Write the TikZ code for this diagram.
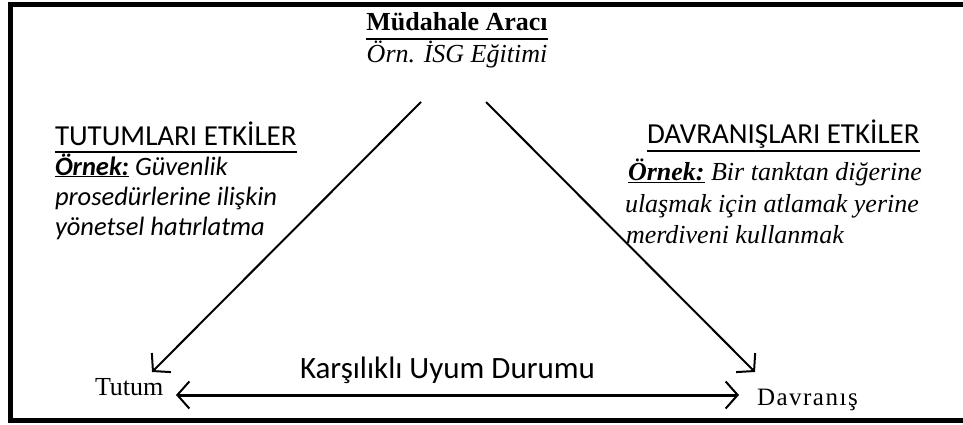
\documentclass[tikz,border=0pt]{standalone}
\usepackage{fontspec}
\setmainfont{Liberation Serif}
\newfontfamily\calfont{Carlito}
\usetikzlibrary{arrows.meta}
\tikzset{
  txt/.style={inner sep=0pt, outer sep=0pt},
  serif/.style={txt, font=\fontsize{25}{30}\selectfont},
  sans/.style={txt, font=\calfont\fontsize{29}{34}\selectfont},
  sansex/.style={txt, font=\calfont\itshape\fontsize{26.5}{30}\selectfont},
  serifex/.style={txt, font=\itshape\fontsize{26}{31}\selectfont},
  barb/.tip={Straight Barb[length=12pt,width=27pt,line width=2pt]},
  diag/.style={line width=2pt, -barb},
  mutual/.style={line width=3pt, barb-barb},
  uline/.style={line width=2pt}
}
\begin{document}
\begin{tikzpicture}[x=1pt,y=-1pt]
\useasboundingbox (0,0) rectangle (963,425);
\clip (0,0) rectangle (963,425);
\fill[white] (0,0) rectangle (963,425);
\draw[line width=5pt] (10.5,4.5) rectangle (990,420.5);

% top
\node[serif, anchor=base, font=\bfseries\fontsize{26}{30}\selectfont] (title) at (457,31) {Müdahale Aracı};
\draw[uline] ([yshift=-8pt]title.base west) -- ([yshift=-8pt]title.base east);
\node[serif, anchor=base, font=\itshape\fontsize{26}{30}\selectfont] (sub) at (457,63) {Örn. İSG Eğitimi};

% corners
\node[serif, anchor=base west, font=\fontsize{26}{30}\selectfont] (tutum) at (95,395) {Tutum};
\node[serif, anchor=base west, font=\addfontfeature{LetterSpace=6}\fontsize{25}{30}\selectfont] (davranis) at (757,405) {Davranış};

\coordinate (lt) at (421,102);
\coordinate (rt) at (486,102);
\coordinate (ltip) at (152,372);
\coordinate (rtip) at (755,372);
\draw[diag] (lt) -- (ltip);
\draw[diag] (rt) -- (rtip);

\coordinate (ha) at (176,395);
\coordinate (hb) at (739,395);
\draw[mutual] (ha) -- (hb);
\node[sans, anchor=base west, font=\calfont\fontsize{31}{34}\selectfont] (mutualtxt) at (300,378) {Karşılıklı Uyum Durumu};

% left block
\node[sans, anchor=base west] (lhead) at (55,145) {TUTUMLARI ETKİLER};
\draw[line width=1.4pt] ([yshift=-7pt]lhead.base west) -- ([yshift=-7pt]lhead.base east);
\node[sansex, anchor=base west] (l1) at (55,175) {\underline{\textbf{Örnek:}} Güvenlik};
\node[sansex, anchor=base west] (l2) at (55,205) {prosedürlerine ilişkin};
\node[sansex, anchor=base west] (l3) at (55,235) {yönetsel hatırlatma};

% right block
\node[sans, anchor=base west] (rhead) at (647,143) {DAVRANIŞLARI ETKİLER};
\draw[line width=1.4pt] ([yshift=-8pt]rhead.base west) -- ([yshift=-8pt]rhead.base east);
\node[serifex, anchor=base west] (r1) at (628,180) {\underline{\textbf{Örnek:}} Bir tanktan diğerine};
\node[serifex, anchor=base west] (r2) at (625,212) {ulaşmak için atlamak yerine};
\node[serifex, anchor=base west] (r3) at (626,243) {merdiveni kullanmak};
\end{tikzpicture}
\end{document}
